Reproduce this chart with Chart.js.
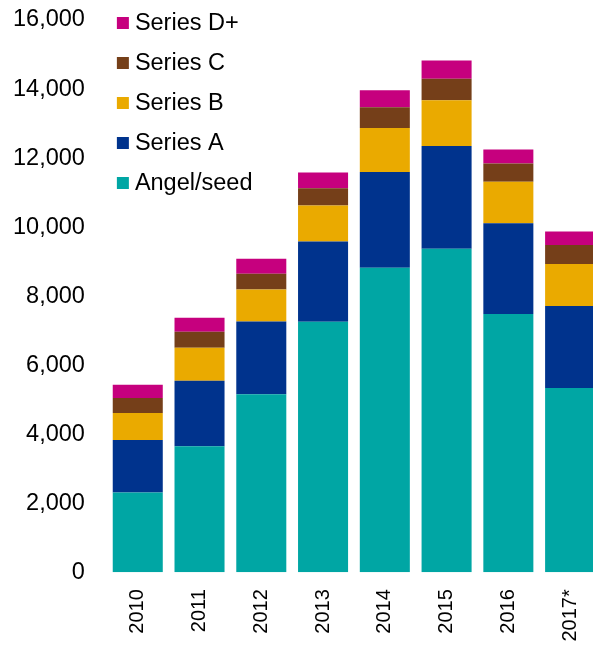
<!DOCTYPE html>
<html>
<head>
<meta charset="utf-8">
<script src="https://cdn.jsdelivr.net/npm/chart.js@4"></script>
<style>
  html, body { margin: 0; padding: 0; background: #fff; overflow: hidden; }
  #wrap { width: 601px; height: 648px; position: relative; }
</style>
</head>
<body>
<div id="wrap"><canvas id="chart"></canvas></div>
<script>
// Data
const years = ["2010", "2011", "2012", "2013", "2014", "2015", "2016", "2017*"];
const angelSeed = [2310, 3650, 5160, 7260, 8820, 9370, 7480, 5335];
const seriesA = [1520, 1895, 2105, 2320, 2775, 2980, 2630, 2375];
const seriesB = [785, 960, 930, 1045, 1275, 1325, 1200, 1220];
const seriesC = [435, 465, 455, 500, 600, 620, 530, 550];
const seriesD = [380, 405, 435, 455, 495, 535, 410, 395];
const yTicks = [0, 2000, 4000, 6000, 8000, 10000, 12000, 14000, 16000];

const FONT = "'Liberation Sans', Arial, sans-serif";

// legend drawn inside the plot, top-left, last series first
const insideLegend = {
  id: "insideLegend",
  afterDraw(chart) {
    const ctx = chart.ctx;
    const area = chart.chartArea;
    const sets = chart.data.datasets.slice().reverse();
    ctx.save();
    ctx.font = "23.5px " + FONT;
    ctx.textBaseline = "middle";
    ctx.textAlign = "left";
    sets.forEach((ds, i) => {
      const y = area.top + 3 + i * 40;
      ctx.fillStyle = ds.backgroundColor;
      ctx.fillRect(area.left + 10, y - 6, 12, 12);
      ctx.fillStyle = "#000";
      ctx.fillText(ds.label, area.left + 28, y + 1);
    });
    ctx.restore();
  },
};

const ctx = document.getElementById("chart").getContext("2d");
new Chart(ctx, {
  type: "bar",
  data: {
    labels: years,
    datasets: [
      { label: "Angel/seed", data: angelSeed, backgroundColor: "#00A6A4" },
      { label: "Series A", data: seriesA, backgroundColor: "#00338D" },
      { label: "Series B", data: seriesB, backgroundColor: "#EAAA00" },
      { label: "Series C", data: seriesC, backgroundColor: "#753F19" },
      { label: "Series D+", data: seriesD, backgroundColor: "#C6007E" },
    ],
  },
  options: {
    responsive: true,
    maintainAspectRatio: false,
    animation: false,
    layout: { padding: { left: -9, top: 20, right: 0, bottom: -10.5 } },
    datasets: { bar: { categoryPercentage: 1, barPercentage: 0.81, borderWidth: 0 } },
    plugins: { legend: { display: false }, tooltip: { enabled: false } },
    scales: {
      x: {
        stacked: true,
        grid: { display: false, drawTicks: false },
        border: { display: false },
        afterFit(scale) {
          scale.paddingLeft = 0;
          scale.paddingRight = 0;
        },
        ticks: {
          color: "#000",
          font: { family: FONT, size: 20 },
          minRotation: 90,
          maxRotation: 90,
          padding: 17,
        },
      },
      y: {
        stacked: true,
        min: 0,
        max: 16000,
        grid: { display: false, drawTicks: false },
        border: { display: false },
        afterBuildTicks(axis) {
          axis.ticks = yTicks.map((v) => ({ value: v }));
        },
        afterFit(scale) {
          scale.paddingTop = 0;
          scale.paddingBottom = 0;
        },
        ticks: {
          color: "#000",
          font: { family: FONT, size: 23.5 },
          padding: 22,
          callback: (v) => v.toLocaleString("en-US"),
        },
      },
    },
  },
  plugins: [insideLegend],
});
</script>
</body>
</html>
